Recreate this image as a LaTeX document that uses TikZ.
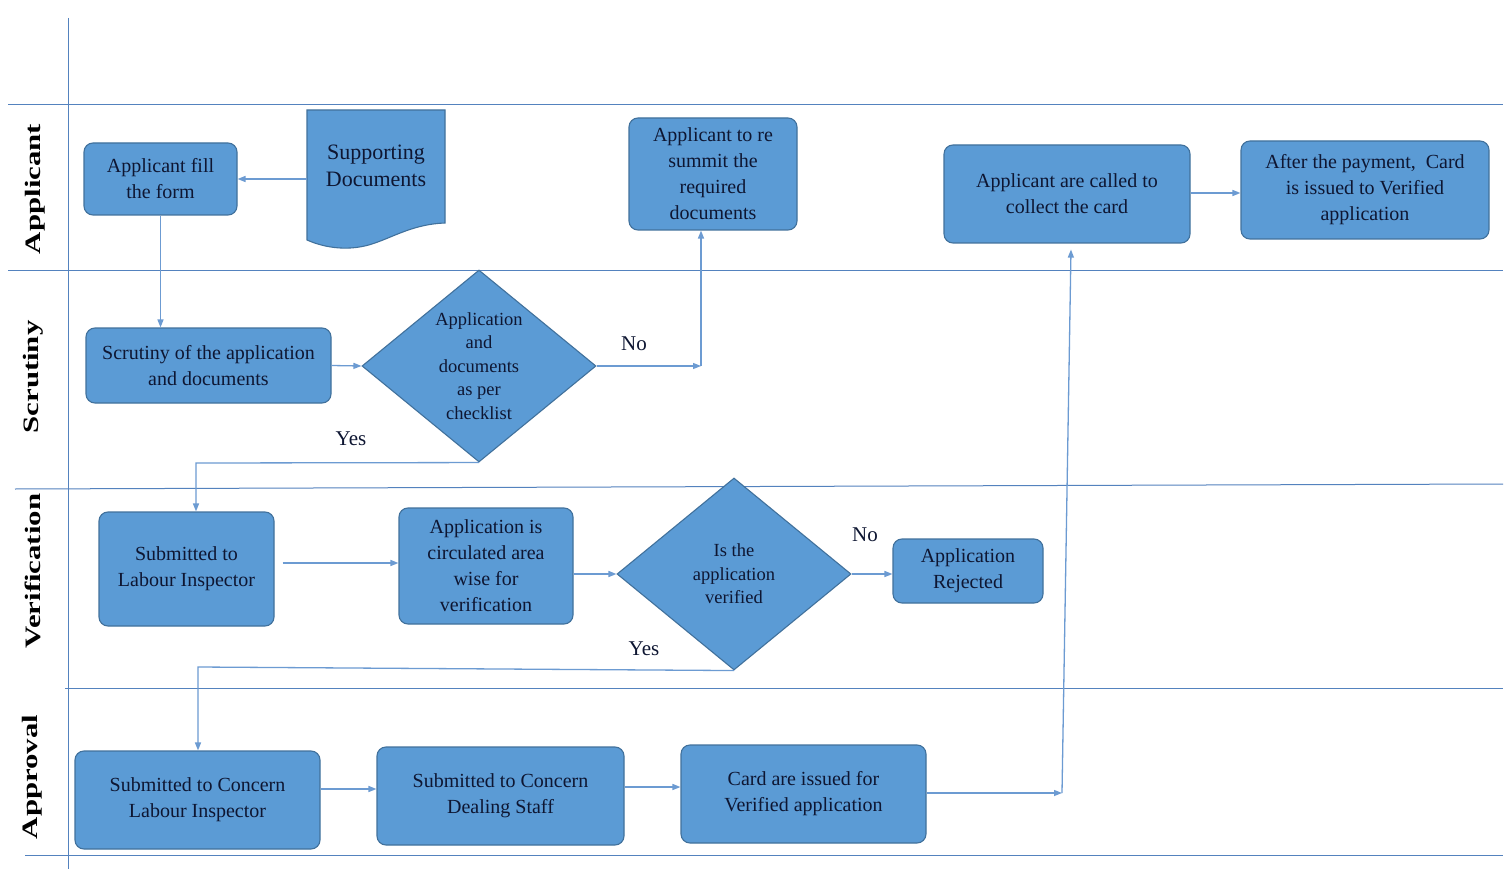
\documentclass[tikz,border=0pt]{standalone}
\usepackage{fontspec}
\setmainfont{Liberation Serif}
\newfontfamily\boxfont{Liberation Serif}
\newfontfamily\lanefont[FakeStretch=1.4]{Liberation Serif}
\usetikzlibrary{shapes.geometric,arrows.meta,calc}
\definecolor{boxfill}{RGB}{91,155,213}
\definecolor{boxline}{RGB}{65,113,156}
\definecolor{lane}{RGB}{84,130,190}
\definecolor{conn}{RGB}{108,155,210}
\definecolor{txt}{RGB}{14,22,50}
\begin{document}
\begin{tikzpicture}[x=1pt,y=-1pt,
  box/.style={draw=boxline, fill=boxfill, line width=1.1pt, rounded corners=9pt,
    text=txt, align=center, font=\boxfont\fontsize{20}{26}\selectfont, inner sep=0pt},
  dec/.style={diamond, aspect=1.22, draw=boxline, fill=boxfill, line width=1.1pt,
    text=txt, align=center, font=\boxfont\fontsize{18.5}{23.5}\selectfont, inner sep=0pt,
    minimum width=234pt, minimum height=192pt},
  lanesep/.style={draw=lane, line width=1pt},
  lanelbl/.style={rotate=90, font=\lanefont\bfseries\fontsize{22}{22}\selectfont, text=black},
  arr/.style={draw=conn, line width=1.3pt, -{Triangle[length=8pt,width=6pt]}},
  lbl/.style={text=txt, font=\boxfont\fontsize{21}{21}\selectfont}
]
\useasboundingbox (0,0) rectangle (1510,869);
\fill[white] (0,0) rectangle (1510,869);

% swimlane lines
\draw[lanesep] (68,18) -- (68,869);
\draw[lanesep] (8,105) -- (1503,105);
\draw[lanesep] (8,270) -- (1503,270);
\draw[lanesep] (15,489) -- (1503,484);
\draw[lanesep] (65,688) -- (1503,688);
\draw[lanesep] (25,855) -- (1503,855);

% lane labels
\node[lanelbl] (lapp) at (35,189) {Applicant};
\node[lanelbl] (lscr) at (33,377) {Scrutiny};
\node[lanelbl] (lver) at (33,571) {Verification};
\node[lanelbl] (lapr) at (32,777) {Approval};

% document shape
\filldraw[draw=boxline, fill=boxfill, line width=1.1pt]
  (307,110) -- (445,110) -- (445,223)
  .. controls (415,224) and (395,236) .. (375,243)
  .. controls (350,252) and (325,248) .. (307,240) -- cycle;
\node[text=txt, align=center, font=\boxfont\fontsize{22}{27}\selectfont,
      minimum width=138pt, minimum height=114pt, inner sep=0pt]
  (docs) at (376,166) {Supporting\\Documents};

% boxes
\node[box, minimum width=153pt, minimum height=72pt] (fill) at (160.5,179) {Applicant fill\\the form};
\node[box, minimum width=168pt, minimum height=112pt] (resubmit) at (713,174) {Applicant to re\\summit the\\required\\documents};
\node[box, minimum width=246pt, minimum height=98pt] (called) at (1067,194) {Applicant are called to\\collect the card};
\node[box, minimum width=248pt, minimum height=98pt] (payment) at (1365,190) {After the payment,~ Card\\is issued to Verified\\application};
\node[box, minimum width=245pt, minimum height=75pt] (scrutiny) at (208.5,365.5) {Scrutiny of the application\\and documents};
\node[dec] (d1) at (479,366) {Application\\and\\documents\\as per\\checklist};
\node[box, minimum width=175pt, minimum height=114pt] (subLI) at (186.5,569) {Submitted to\\Labour Inspector};
\node[box, minimum width=174pt, minimum height=116pt] (circ) at (486,566) {Application is\\circulated area\\wise for\\verification};
\node[dec] (d2) at (734,574) {Is the\\application\\verified};
\node[box, minimum width=150pt, minimum height=64pt] (rejected) at (968,571) {Application\\Rejected};
\node[box, minimum width=245pt, minimum height=98pt] (concernLI) at (197.5,800) {Submitted to Concern\\Labour Inspector};
\node[box, minimum width=247pt, minimum height=98pt] (dealing) at (500.5,796) {Submitted to Concern\\Dealing Staff};
\node[box, minimum width=245pt, minimum height=98pt] (cardiss) at (803.5,794) {Card are issued for\\Verified application};

% connectors
\draw[arr] (docs.west |- fill.east) -- (fill.east);
\draw[arr] (fill.south) -- (scrutiny.north -| fill.south);
\draw[arr] (scrutiny.east) -- (d1.west);
\coordinate (n1) at (701,366);
\draw[arr] (d1.east) -- (n1);
\draw[arr] (n1) -- (resubmit.south -| n1);
\coordinate (y1) at (196,463);
\draw[arr] (d1.south) -- (y1) -- (y1 |- subLI.north);
\draw[arr] ([xshift=8pt]subLI.east |- 0,563) -- (circ.west |- 0,563);
\draw[arr] (circ.east |- d2.west) -- (d2.west);
\draw[arr] (d2.east) -- (rejected.west |- d2.east);
\coordinate (y2) at (198,667);
\draw[arr] (d2.south) -- (y2) -- (y2 |- concernLI.north);
\draw[arr] (concernLI.east |- 0,789) -- (dealing.west |- 0,789);
\draw[arr] (dealing.east |- 0,787) -- (cardiss.west |- 0,787);
\coordinate (c1) at (1062,793);
\draw[arr] (cardiss.east |- c1) -- (c1);
\draw[arr] (c1) -- ($(called.south)+(4,6)$);
\draw[arr] (called.east |- 0,193) -- (payment.west |- 0,193);

% labels
\node[lbl] (no1) at (634,344) {No};
\node[lbl] (yes1) at (351,439) {Yes};
\node[lbl] (no2) at (865,535) {No};
\node[lbl] (yes2) at (644,649) {Yes};
\end{tikzpicture}
\end{document}
